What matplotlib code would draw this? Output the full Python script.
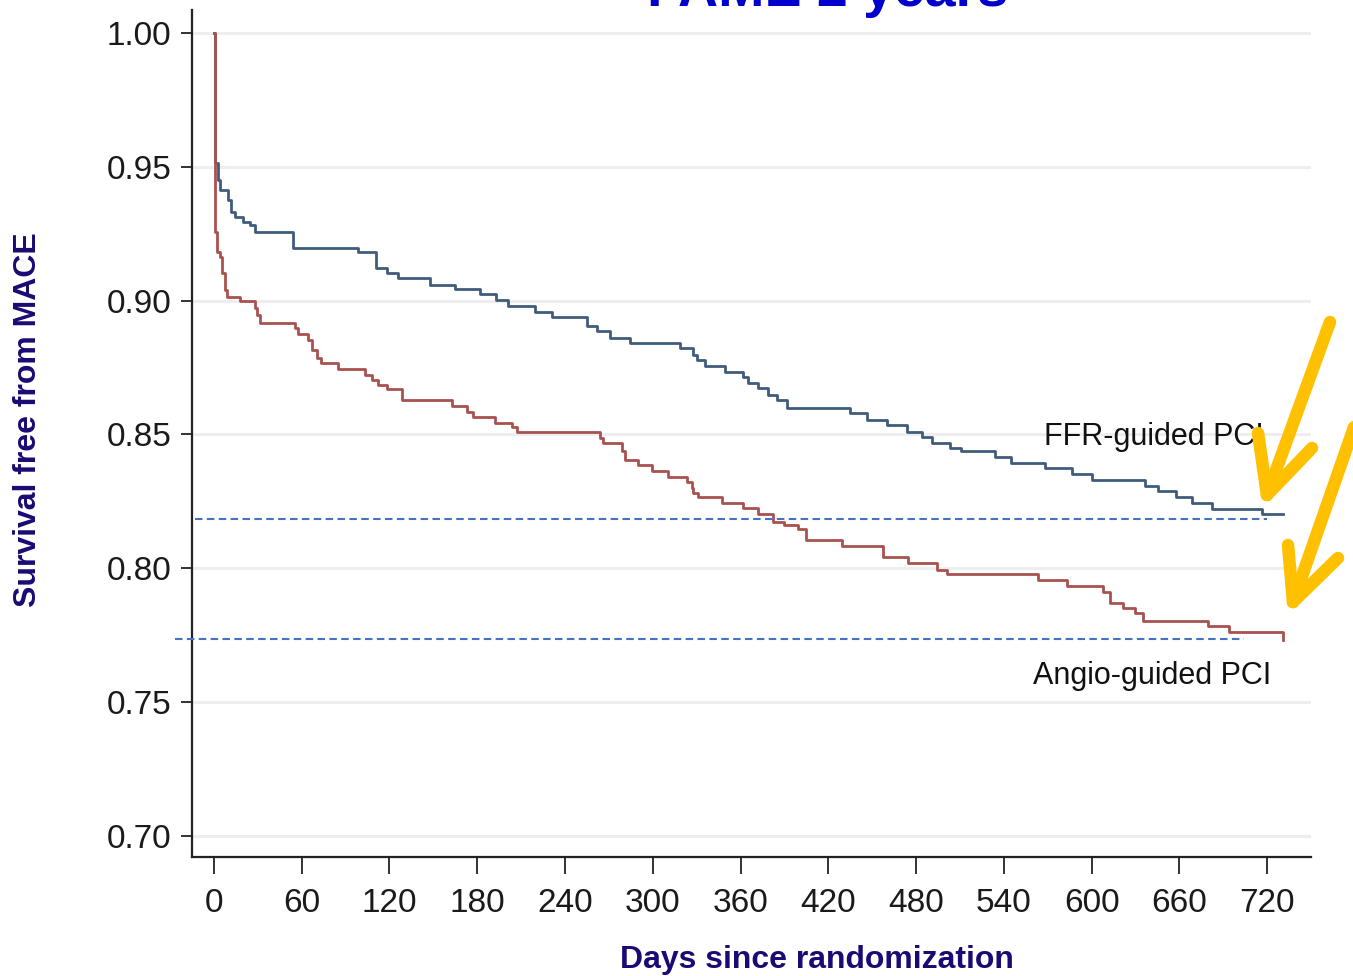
import matplotlib
matplotlib.use("Agg")
import matplotlib.pyplot as plt
from matplotlib.lines import Line2D

# Kaplan-Meier estimates: event days and survival after each event
ffr_days = [0, 0.5, 2.5, 4, 9.6, 12, 14.4, 20, 24.6, 28, 54, 98.5, 111, 118, 126,
            148, 165, 182, 193, 201, 219.5, 231, 255, 261.7, 271, 284.4, 318.6,
            327.5, 330, 335.7, 349.4, 361.7, 365, 372, 378.8, 385, 391.8, 434.9,
            446.3, 460, 473.6, 484, 490.7, 503, 511, 534, 545, 568, 586.5, 600,
            636.6, 645.5, 658, 668.5, 682, 716.4, 731]
ffr_surv = [1.000, 0.9513, 0.9450, 0.9413, 0.9376, 0.9332, 0.9313, 0.9295, 0.9282,
            0.9257, 0.9195, 0.9182, 0.9120, 0.9102, 0.9083, 0.9058, 0.9042, 0.9023,
            0.9002, 0.8979, 0.8958, 0.8937, 0.8905, 0.8885, 0.8861, 0.8840, 0.8821,
            0.8796, 0.8778, 0.8755, 0.8734, 0.8715, 0.8690, 0.8673, 0.8647, 0.8628,
            0.8597, 0.8578, 0.8553, 0.8535, 0.8510, 0.8491, 0.8466, 0.8447, 0.8437,
            0.8416, 0.8394, 0.8373, 0.8351, 0.8329, 0.8307, 0.8288, 0.8267, 0.8244,
            0.8221, 0.8201, 0.8201]

angio_days = [0, 0.7, 1.8, 4, 5.3, 7.5, 8.7, 17.8, 28, 29.4, 31.5, 55.4, 57.6, 64.3,
              66.8, 70.2, 73.2, 85, 103.2, 107.8, 112.3, 118, 128.3, 162.5, 172.8,
              177, 192, 203.5, 207, 264, 266, 278.8, 281, 290, 299.3, 310.6, 323.2,
              326.6, 327.5, 331, 347.4, 361.7, 372, 382, 389.7, 399.3, 405, 429.4,
              457.6, 474.7, 494.4, 501, 563.4, 583, 608, 612.6, 621.7, 629.7, 635.4,
              679.9, 693.6, 731]
angio_surv = [1.000, 0.9257, 0.9182, 0.9164, 0.9102, 0.9039, 0.9014, 0.8999, 0.8971,
              0.8946, 0.8917, 0.8896, 0.8875, 0.8852, 0.8815, 0.8785, 0.8767, 0.8743,
              0.8721, 0.8703, 0.8684, 0.8668, 0.8627, 0.8606, 0.8584, 0.8563, 0.8541,
              0.8528, 0.8508, 0.8486, 0.8467, 0.8437, 0.8404, 0.8385, 0.8363, 0.8340,
              0.8323, 0.8299, 0.8279, 0.8267, 0.8244, 0.8223, 0.8203, 0.8173, 0.8161,
              0.8145, 0.8105, 0.8082, 0.8041, 0.8019, 0.7993, 0.7978, 0.7955, 0.7933,
              0.7911, 0.7868, 0.7849, 0.7831, 0.7803, 0.7783, 0.7762, 0.7731]

# reference levels at two years
ffr_ref = 0.8183
angio_ref = 0.7735

x_ticks = [0, 60, 120, 180, 240, 300, 360, 420, 480, 540, 600, 660, 720]
y_ticks = [0.70, 0.75, 0.80, 0.85, 0.90, 0.95, 1.00]

W, H = 1353, 976
fig = plt.figure(figsize=(W / 100, H / 100), dpi=100)
fig.patch.set_facecolor("white")

ax = fig.add_axes([192 / W, 1 - 857 / H, (1311 - 192) / W, (857 - 10) / H])
ax.set_xlim(-15, 750)
ax.set_ylim(0.692, 1.0086)

font = "Liberation Sans"
navy = "#1c0a74"

for yv in y_ticks:
    ax.axhline(yv, color="#eeeeee", lw=2.2, zorder=0)

ax.step(ffr_days, ffr_surv, where="post", color="#3f5c7c", lw=2.0, zorder=3)
ax.step(angio_days, angio_surv, where="post", color="#a8524f", lw=2.0, zorder=3)

l1, = ax.plot([-13, 720], [ffr_ref, ffr_ref], color="#4472c4", lw=1.5, zorder=4)
l2, = ax.plot([-26.6, 704], [angio_ref, angio_ref], color="#4472c4", lw=1.5,
              zorder=4, clip_on=False)
for ln in (l1, l2):
    ln.set_dashes([3.6, 2.1])

ax.text(642.5, 0.849, "FFR-guided PCI", fontsize=22, family=font,
        ha="center", va="center", color="#111111", zorder=5)
ax.text(641.5, 0.7598, "Angio-guided PCI", fontsize=22, family=font,
        ha="center", va="center", color="#111111", zorder=5)

for s in ("top", "right"):
    ax.spines[s].set_visible(False)
for s in ("left", "bottom"):
    ax.spines[s].set_linewidth(1.6)
    ax.spines[s].set_color("#222222")

ax.set_xticks(x_ticks)
ax.set_yticks(y_ticks)
ax.set_yticklabels([f"{v:.2f}" for v in y_ticks])
ax.tick_params(axis="x", length=12, width=1.3, pad=10, labelsize=24, colors="#222222")
ax.tick_params(axis="y", length=8, width=1.3, pad=7, labelsize=24, colors="#222222")
for lab in ax.get_xticklabels() + ax.get_yticklabels():
    lab.set_family(font)
    lab.set_color("#1a1a1a")

fig.text(817 / W, 1 - 960 / H, "Days since randomization", fontsize=23,
         fontweight="bold", family=font, color=navy, ha="center", va="center")
fig.text(28 / W, 1 - 420 / H, "Survival free from MACE", fontsize=23,
         fontweight="bold", family=font, color=navy, ha="center", va="center",
         rotation=90)
fig.text(828 / W, 1 - 6 / H, "FAME 2 years", fontsize=40, fontweight="bold",
         family=font, color="#0000cc", ha="center", va="baseline")

# highlight arrows pointing to the two-year estimates
orange = "#ffc000"
arrows = [
    [((1330, 322), (1267, 495)), ((1258, 433), (1267, 495)), ((1312, 448), (1267, 495))],
    [((1360, 410), (1293, 602)), ((1288, 545), (1293, 602)), ((1338, 558), (1293, 602))],
]
for arrow in arrows:
    for (xa, ya), (xb, yb) in arrow:
        fig.add_artist(Line2D([xa / W, xb / W], [1 - ya / H, 1 - yb / H],
                              transform=fig.transFigure, color=orange, lw=9,
                              solid_capstyle="round", zorder=10))

fig.savefig("out.png", dpi=100, facecolor="white")
